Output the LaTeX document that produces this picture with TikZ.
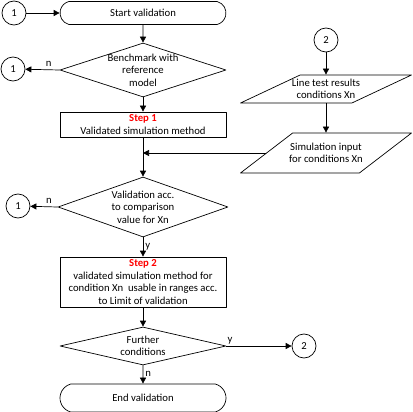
\documentclass[tikz,border=0pt]{standalone}
\usepackage{fontspec}
\setmainfont{Carlito}
\usepackage{xcolor}
\usetikzlibrary{arrows.meta}
\usetikzlibrary{shapes.geometric,shapes.misc}
\definecolor{steprr}{rgb}{1.,0.,0.}
\tikzstyle{every node}=[font=\fontsize{10.7}{12.4}\selectfont]

\begin{document}
\begin{tikzpicture}[line cap=round,line join=round,line width=.7pt,>={Triangle[length=6pt,width=6pt]},x=1pt,y=-1pt,
    term/.style={draw,rounded rectangle,rounded rectangle arc length=150,minimum width=166pt,minimum height=#1,inner sep=0pt},
    proc/.style={draw,rectangle,minimum width=166pt,minimum height=#1,inner sep=0pt,align=center},
    decision/.style={draw,diamond,inner sep=0pt},
    io/.style={draw,trapezium,trapezium stretches=true,inner sep=1pt,minimum width=171pt},
    conn/.style={draw,circle,minimum size=24pt,inner sep=0pt},
    inside/.style={align=center,inner sep=0pt}]
            \useasboundingbox (0,0) rectangle (413,412);
            % left column
            \node [conn] (c1a) at (14,13) {1};
            \node [term=23pt] (start) at (143,13) {Start validation};
            \node [decision,minimum width=166pt,minimum height=54pt,label={[inside]center:Benchmark with\\reference\\model}] (bench) at (143,70) {};
            \node [conn] (c1b) at (13,69) {1};
            \node [proc=25pt] (step1) at (143,124.5) {\textcolor{steprr}{\textbf{Step 1}}\\Validated simulation method};
            \node [decision,minimum width=170pt,minimum height=60pt,label={[inside]center:Validation acc.\\to comparison\\value for Xn}] (val) at (143,207) {};
            \node [conn] (c1c) at (18,206) {1};
            \node [proc=50pt] (step2) at (143,282) {\textcolor{steprr}{\textbf{Step 2}}\\validated simulation method for\\condition Xn\ \ usable in ranges acc.\\to Limit of validation};
            \node [decision,minimum width=166pt,minimum height=38pt,label={[inside]center:Further\\conditions}] (further) at (143,346) {};
            \node [term=28pt] (endv) at (143,398) {End validation};
            % right column
            \node [conn] (c2a) at (326,40) {2};
            \node [io,minimum height=28pt,trapezium left angle=41,trapezium right angle=139,label={[inside]center:Line test results\\conditions Xn}] (lines) at (326,89) {};
            \node [io,minimum height=40pt,trapezium left angle=52,trapezium right angle=128,label={[inside]center:Simulation input\\for conditions Xn}] (sim) at (326,153) {};
            \node [conn] (c2b) at (304,346) {2};
            \coordinate (join) at (step1.south |- sim.west);

            \draw [->] (c1a) -- (start);
            \draw [->] (start) -- (bench);
            \draw [->] (bench.west) -- node [above,pos=0.32] (nb) {n} (c1b);
            \draw [->] (bench) -- (step1);
            \draw [->] (step1) -- (val);
            \draw [->] (sim.west) -- (join);
            \draw [->] (c2a) -- (lines);
            \draw [->] (lines) -- (sim);
            \draw [->] (val.west) -- node [above,pos=0.32] (nv) {n} (c1c);
            \draw [->] (val) -- node [right,inner sep=2pt] (yv) {y} (step2);
            \draw [->] (step2) -- (further);
            \draw [->] (further.east) -- node [pos=0,anchor=south west,inner sep=1pt] (yf) {y} (c2b);
            \draw [->] (further) -- node [right,inner sep=2pt,pos=0.45] (nf) {n} (endv);
            \end{tikzpicture}
\end{document}
